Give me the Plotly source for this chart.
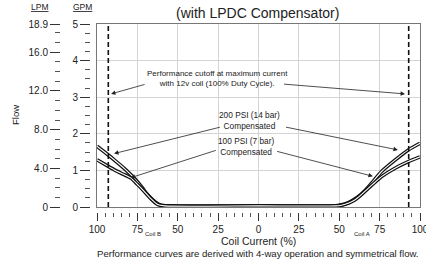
import plotly.graph_objects as go

# ---- data ----
# Coil current (%), signed: negative = Coil B side, positive = Coil A side
psi200_x = [-100, -93, -89.4, -83, -77, -72, -68.8, -64, -60.5, -56, 0, 46, 49, 53.4, 57.5, 61.7, 66, 70, 76.2, 84.5, 92.8, 100]
psi200_y = [1.66, 1.42, 1.29, 1.05, 0.79, 0.53, 0.34, 0.14, 0.05, 0.03, 0.03, 0.03, 0.04, 0.08, 0.16, 0.28, 0.45, 0.65, 0.97, 1.28, 1.56, 1.74]
psi100_x = [-100, -93, -89.4, -84, -79, -75, -70.8, -66.5, -62.5, -58, 0, 48, 51.4, 55.5, 59.6, 63.5, 67.9, 72, 76.2, 84.5, 92.8, 100]
psi100_y = [1.29, 1.11, 1.02, 0.90, 0.79, 0.62, 0.43, 0.22, 0.07, 0.03, 0.03, 0.03, 0.05, 0.10, 0.19, 0.33, 0.51, 0.67, 0.83, 1.06, 1.24, 1.37]

cutoff_x = [-93, 93]            # performance cutoff (12v coil, 100% duty)
gpm_range = [0, 5]
lpm_max = 18.93
lpm_tickvals = [0, 4, 8, 12, 16, 18.93]
lpm_ticktext = ["0", "4.0", "8.0", "12.0", "16.0", "18.9"]
lpm_minor = [1, 2, 3, 5, 6, 7, 9, 10, 11, 13, 14, 15, 17, 18]
gpm_tickvals = [0, 1, 2, 3, 4, 5]
x_tickvals = [-100, -75, -50, -25, 0, 25, 50, 75, 100]
x_ticktext = ["100", "75", "50", "25", "0", "25", "50", "75", "100"]

# ---- layout helpers (reference pixel -> paper) ----
W, H = 426, 259
ML, MR, MT, MB = 10, 6, 24, 40
PW, PH = W - ML - MR, H - MT - MB
def px(x):
    return (x - ML) / PW
def py(y):
    return (H - MB - y) / PH

FONT = "Liberation Sans, Arial, sans-serif"
INK = "#222"

fig = go.Figure()

def tube(xs, ys):
    fig.add_trace(go.Scatter(x=xs, y=ys, mode="lines", line=dict(color="#111", width=3.6, shape="spline", smoothing=0.6),
                             hoverinfo="skip", showlegend=False))
    fig.add_trace(go.Scatter(x=xs, y=ys, mode="lines", line=dict(color="white", width=1.1, shape="spline", smoothing=0.6),
                             hoverinfo="skip", showlegend=False))

tube(psi200_x, psi200_y)
tube(psi100_x, psi100_y)

for cx in cutoff_x:
    fig.add_trace(go.Scatter(x=[cx, cx], y=gpm_range, mode="lines", line=dict(color="#111", width=1.6, dash="5px,3px"),
                             hoverinfo="skip", showlegend=False))

# dummy traces to instantiate extra axes
fig.add_trace(go.Scatter(x=[None], y=[None], xaxis="x", yaxis="y2", showlegend=False, hoverinfo="skip"))
fig.add_trace(go.Scatter(x=[None], y=[None], xaxis="x", yaxis="y3", showlegend=False, hoverinfo="skip"))
fig.add_trace(go.Scatter(x=[None], y=[None], xaxis="x2", yaxis="y", showlegend=False, hoverinfo="skip"))

ydom = [py(207), 1]
xdom = [px(97), 1]

fig.update_layout(
    width=W, height=H,
    margin=dict(l=ML, r=MR, t=MT, b=MB, autoexpand=False),
    paper_bgcolor="white", plot_bgcolor="white",
    font=dict(family=FONT, color=INK, size=9),
    xaxis=dict(domain=xdom, range=[-100, 100], tickvals=x_tickvals, showticklabels=False, ticks="",
               showgrid=True, gridcolor="#d4d4d4", gridwidth=1, zeroline=False, automargin=False,
               showline=True, linecolor="#777", linewidth=1, mirror=True),
    xaxis2=dict(overlaying="x", anchor="free", position=py(212), side="bottom", domain=xdom, range=[-100, 100],
                tickmode="array", tickvals=x_tickvals, ticktext=x_ticktext, ticks="outside", ticklen=8,
                tickwidth=1.2, tickcolor="#333", showgrid=False, zeroline=False, showline=False, automargin=False,
                tickfont=dict(size=10, color=INK), ticklabeloverflow="allow",
                minor=dict(dtick=5, tick0=0, ticks="outside", ticklen=4, tickwidth=1, tickcolor="#555")),
    yaxis=dict(domain=ydom, range=gpm_range, tickvals=gpm_tickvals, showticklabels=False, ticks="",
               showgrid=True, gridcolor="#d4d4d4", gridwidth=1, zeroline=False, automargin=False,
               showline=True, linecolor="#777", linewidth=1, mirror=True),
    yaxis2=dict(overlaying="y", anchor="free", position=px(90), side="left", domain=ydom, range=gpm_range,
                tickmode="array", tickvals=gpm_tickvals, ticks="outside", ticklen=10, tickwidth=1.2,
                tickcolor="#333", showgrid=False, zeroline=False, showline=False, automargin=False,
                tickfont=dict(size=10, color=INK),
                minor=dict(dtick=0.25, tick0=0, ticks="outside", ticklen=5, tickwidth=1, tickcolor="#555")),
    yaxis3=dict(overlaying="y", anchor="free", position=px(60), side="left", domain=ydom, range=[0, lpm_max],
                tickmode="array", tickvals=lpm_tickvals, ticktext=lpm_ticktext, ticks="outside", ticklen=10,
                tickwidth=1.2, tickcolor="#333", showgrid=False, zeroline=False, showline=False, automargin=False,
                tickfont=dict(size=10, color=INK),
                minor=dict(tickvals=lpm_minor, ticks="outside", ticklen=5, tickwidth=1, tickcolor="#555")),
)

def note(text, x, y, size, xref="paper", yref="paper", angle=0):
    fig.add_annotation(text=text, x=x, y=y, xref=xref, yref=yref, showarrow=False, textangle=angle,
                       font=dict(size=size, color=INK, family=FONT), xanchor="center", yanchor="middle")

def arrow(tx, ty, hx, hy):
    fig.add_annotation(text="", x=hx, y=hy, ax=tx, ay=ty, xref="x", yref="y", axref="x", ayref="y",
                       showarrow=True, arrowhead=2, arrowsize=1.1, arrowwidth=0.8, arrowcolor="#222")

note("(with LPDC Compensator)", px(257), py(13), 14)
note("<span style='text-decoration:underline'>LPM</span>", px(39), py(7), 8.5)
note("<span style='text-decoration:underline'>GPM</span>", px(82), py(7), 8.5)
note("Flow", px(15), py(115), 9.5, angle=-90)
note("Coil B", -65.5, py(234), 6, xref="x")
note("Coil A", 64, py(234), 6, xref="x")
note("Coil Current (%)", px(258), py(241), 10.5)
note("Performance curves are derived with 4-way operation and symmetrical flow.", px(258), py(253), 9.6)

note("Performance cutoff at maximum current<br>with 12v coil (100% Duty Cycle).", -25.5, 3.5, 8, xref="x", yref="y")
arrow(-69.6, 3.36, -91.3, 3.09)
arrow(14.9, 3.36, 90.7, 3.09)

note("200 PSI (14 bar)<br>Compensated", -5.6, 2.35, 8.3, xref="x", yref="y")
arrow(-23, 2.19, -89.4, 1.46)
arrow(16.1, 2.19, 86.3, 1.56)

note("100 PSI (7 bar)<br>Compensated", -7.5, 1.64, 8.3, xref="x", yref="y")
arrow(-25.5, 1.56, -79.1, 0.80)
arrow(10.6, 1.53, 70.8, 0.84)

# remove the page's default 8px body margin so the figure fills the window; hide the mode bar
fig.write_html("out.html", config={"displayModeBar": False},
               post_script="document.body.style.margin='0px';")
